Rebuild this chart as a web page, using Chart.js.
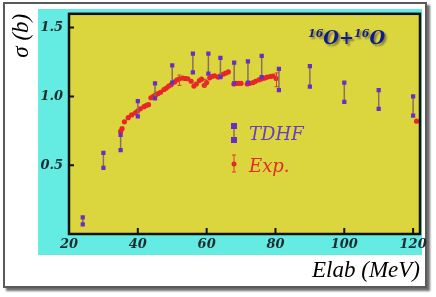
<!DOCTYPE html>
<html>
<head>
<meta charset="utf-8">
<script src="https://cdn.jsdelivr.net/npm/chart.js@4/dist/chart.umd.min.js"></script>
<style>
  body { margin: 0; background: #fff; }
  #wrap { position: relative; width: 436px; height: 297px; overflow: hidden; }
  #frame { position: absolute; left: 3px; top: 2px; width: 420px; height: 282px;
           border: 2px solid #5a5a5a; background: #fff; box-shadow: 3px 3px 2px #6e6e6e; }
  #cyan { position: absolute; left: 38px; top: 9px; width: 384px; height: 246px; background: #64ece2; }
  canvas { position: absolute; left: 0; top: 0; }
  .lbl { position: absolute; line-height: 1; white-space: nowrap; }
  #title { left: 308px; top: 27px; font: bold italic 18px "DejaVu Serif"; color: #0f1a8e;
           text-shadow: 2px 2px 2px rgba(20,20,60,0.45); }
  #title sup { font-size: 11px; vertical-align: 7px; }
  #lgTdhf { left: 249px; top: 123px; font: italic 18px "DejaVu Serif"; color: #6a3cc6; }
  #lgExp { left: 249px; top: 155px; font: italic 18px "DejaVu Serif"; color: #e4282c; }
</style>
</head>
<body>
<div id="wrap">
  <div id="frame"></div>
  <div id="cyan"></div>
  <canvas id="myChart" width="436" height="297"></canvas>
  <div class="lbl" id="title"><sup>16</sup>O+<sup>16</sup>O</div>
  <div class="lbl" id="lgTdhf">TDHF</div>
  <div class="lbl" id="lgExp">Exp.</div>
</div>
<script>
// TDHF: energia y limites inferior / superior de la seccion eficaz
const tdhfE  = [24, 30, 35, 40, 45, 50, 56, 60.5, 64, 68, 72, 76, 81, 90, 100, 110, 120];
const tdhfLo = [0.07, 0.48, 0.61, 0.855, 0.985, 1.10, 1.175, 1.165, 1.14, 1.095, 1.10, 1.14, 1.045, 1.07, 0.96, 0.91, 0.86];
const tdhfHi = [0.12, 0.59, 0.72, 0.965, 1.095, 1.225, 1.31, 1.31, 1.28, 1.245, 1.255, 1.295, 1.20, 1.22, 1.10, 1.045, 1.00];

// Datos experimentales
const expE = [35.0, 35.4, 36.1, 37.2, 38.2, 39.3, 40.0, 40.7, 41.8, 42.5, 43.1,
  43.8, 44.5, 45.2, 45.9, 46.6, 47.6, 48.3, 49.0, 49.7, 50.7, 51.4, 52.1, 53.1, 53.8, 54.5,
  55.5, 56.3, 57.0, 57.9, 58.5, 59.3, 60.0, 60.9, 61.6, 62.3, 63.3, 64.0, 64.9, 65.6, 66.3,
  67.9, 68.6, 69.3, 70.0, 71.8, 72.5, 73.5, 74.2, 75.2, 75.9, 76.9, 77.6, 78.6, 79.3, 80.2, 121];
const expS = [0.745, 0.765, 0.815, 0.845, 0.865, 0.88, 0.895, 0.91, 0.925, 0.935, 0.94,
  0.99, 1.0, 1.012, 1.02, 1.03, 1.05, 1.06, 1.075, 1.085, 1.105, 1.12, 1.128, 1.133, 1.13, 1.128,
  1.11, 1.075, 1.09, 1.115, 1.125, 1.08, 1.10, 1.135, 1.145, 1.15, 1.14, 1.15, 1.162, 1.17, 1.178,
  1.09, 1.095, 1.095, 1.095, 1.09, 1.095, 1.10, 1.11, 1.12, 1.127, 1.133, 1.14, 1.145, 1.148, 1.13, 0.82];

// Barras de error visibles del experimento
const errE  = [52.1, 59.5, 80.3];
const errLo = [1.08, 1.07, 1.07];
const errHi = [1.155, 1.125, 1.17];

const xTicks = [20, 40, 60, 80, 100, 120];
const yTicks = [0.5, 1.0, 1.5];

const tdhfData = [];
tdhfE.forEach((e, i) => {
  tdhfData.push({ x: e, y: tdhfLo[i] }, { x: e, y: tdhfHi[i] }, { x: e, y: null });
});

const PURPLE = '#6a2fc2';
const RED = '#e8262a';

// Fondo amarillo, marco, marcas de ejes, barras de error y leyenda
const decor = {
  id: 'decor',
  beforeDatasetsDraw(chart) {
    const { ctx, chartArea: a } = chart;
    ctx.save();
    ctx.fillStyle = '#dcd63e';
    ctx.fillRect(a.left, a.top, a.right - a.left, a.bottom - a.top);
    ctx.restore();
  },
  afterDatasetsDraw(chart) {
    const { ctx, chartArea: a, scales: { x, y } } = chart;
    ctx.save();
    // barras de error exp.
    ctx.strokeStyle = '#d8402a';
    ctx.lineWidth = 1;
    errE.forEach((e, i) => {
      const px = x.getPixelForValue(e);
      const p1 = y.getPixelForValue(errLo[i]);
      const p2 = y.getPixelForValue(errHi[i]);
      ctx.beginPath();
      ctx.moveTo(px, p1); ctx.lineTo(px, p2);
      ctx.moveTo(px - 2, p1); ctx.lineTo(px + 2, p1);
      ctx.moveTo(px - 2, p2); ctx.lineTo(px + 2, p2);
      ctx.stroke();
    });
    // marcas
    ctx.strokeStyle = '#111';
    ctx.lineWidth = 2;
    ctx.beginPath();
    xTicks.forEach(v => {
      const px = x.getPixelForValue(v);
      ctx.moveTo(px, a.bottom); ctx.lineTo(px, a.bottom - 6);
    });
    yTicks.forEach(v => {
      const py = y.getPixelForValue(v);
      ctx.moveTo(a.left, py); ctx.lineTo(a.left + 5, py);
    });
    ctx.stroke();
    ctx.lineWidth = 2.5;
    ctx.strokeRect(a.left, a.top, a.right - a.left, a.bottom - a.top);

    // simbolos de la leyenda
    ctx.strokeStyle = '#8a6e5e';
    ctx.lineWidth = 1.5;
    ctx.beginPath(); ctx.moveTo(234, 126); ctx.lineTo(234, 140); ctx.stroke();
    ctx.fillStyle = PURPLE;
    ctx.fillRect(231, 123, 6, 6);
    ctx.fillRect(231, 137, 6, 6);
    ctx.strokeStyle = '#d8402a';
    ctx.lineWidth = 1;
    ctx.beginPath();
    ctx.moveTo(234, 155); ctx.lineTo(234, 172);
    ctx.moveTo(232, 155); ctx.lineTo(236, 155);
    ctx.moveTo(232, 172); ctx.lineTo(236, 172);
    ctx.stroke();
    ctx.fillStyle = RED;
    ctx.beginPath(); ctx.arc(234, 164, 2.5, 0, Math.PI * 2); ctx.fill();
    ctx.restore();
  }
};

const tickFont = { family: 'DejaVu Serif', size: 13, weight: 'bold', style: 'italic' };

new Chart(document.getElementById('myChart'), {
  data: {
    datasets: [
      {
        type: 'line',
        label: 'TDHF',
        data: tdhfData,
        order: 0,
        spanGaps: false,
        borderColor: '#8a6e5e',
        borderWidth: 1.5,
        pointStyle: 'rect',
        pointRadius: 3,
        pointBackgroundColor: PURPLE,
        pointBorderColor: PURPLE,
        pointBorderWidth: 0
      },
      {
        type: 'scatter',
        label: 'Exp.',
        data: expE.map((e, i) => ({ x: e, y: expS[i] })),
        order: 1,
        pointRadius: 2.6,
        pointBackgroundColor: RED,
        pointBorderWidth: 0
      }
    ]
  },
  options: {
    responsive: false,
    devicePixelRatio: 1,
    animation: false,
    layout: { padding: { left: 0, top: 12, right: 16, bottom: 0 } },
    plugins: { legend: { display: false }, tooltip: { enabled: false } },
    scales: {
      x: {
        type: 'linear',
        min: 20,
        max: 122,
        afterFit: s => { s.height = 63; },
        afterBuildTicks: s => { s.ticks = xTicks.map(v => ({ value: v })); },
        grid: { display: false, drawTicks: false },
        border: { display: false },
        ticks: { padding: 3, color: '#1d2c30', font: tickFont, maxRotation: 0 },
        title: {
          display: true, text: 'Elab (MeV)', align: 'end', color: '#000',
          font: { family: 'Liberation Serif', size: 23, style: 'italic' },
          padding: { top: 0, bottom: 12 }
        }
      },
      y: {
        type: 'linear',
        min: 0,
        max: 1.6,
        afterFit: s => { s.width = 69; },
        afterBuildTicks: s => { s.ticks = yTicks.map(v => ({ value: v })); },
        grid: { display: false, drawTicks: false },
        border: { display: false },
        ticks: { padding: 6, color: '#1d2c30', font: tickFont, callback: v => v.toFixed(1) },
        title: {
          display: true, text: 'σ (b)', align: 'end', color: '#000',
          font: { family: 'Liberation Serif', size: 23, style: 'italic' },
          padding: { top: 8, bottom: 0 }
        }
      }
    }
  },
  plugins: [decor]
});
</script>
</body>
</html>
